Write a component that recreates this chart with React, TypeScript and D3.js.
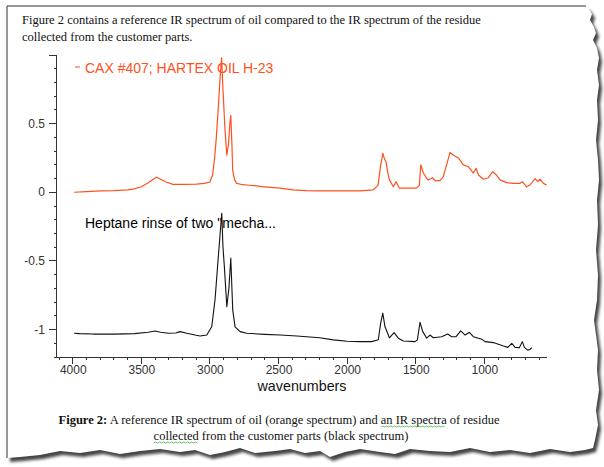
import React, { useEffect, useRef, useState } from 'react';
import * as d3 from 'd3';

const W = 604;
const H = 467;

// ---- data ----
const xTickValues = [4000, 3500, 3000, 2500, 2000, 1500, 1000];
const yTickValues = [-1, -0.5, 0, 0.5];
const yTickLabels = ['-1', '-0.5', '0', '0.5'];
const xAxisTitle = 'wavenumbers';
const orangeName = 'CAX #407; HARTEX OIL H-23';
const blackName = 'Heptane rinse of two "mecha...';

const orangeWn = [3990, 3900, 3800, 3700, 3600, 3550, 3500, 3450, 3420, 3390, 3360, 3320, 3270, 3200, 3100, 3040, 3000, 2980, 2965, 2955, 2940, 2925, 2915, 2905, 2890, 2877, 2865, 2855, 2848, 2840, 2834, 2820, 2805, 2760, 2730, 2600, 2489, 2394, 2300, 2200, 2100, 2000, 1907, 1811, 1775, 1755, 1740, 1730, 1716, 1705, 1692, 1663, 1643, 1619, 1560, 1493, 1474, 1463, 1444, 1420, 1408, 1379, 1359, 1323, 1299, 1275, 1250, 1226, 1189, 1153, 1116, 1080, 1060, 1043, 1007, 971, 939, 915, 885, 837, 780, 740, 723, 691, 667, 630, 610, 594, 570, 545];
const orangeAbs = [0.0, 0.005, 0.01, 0.012, 0.017, 0.025, 0.04, 0.07, 0.09, 0.11, 0.095, 0.075, 0.058, 0.057, 0.06, 0.065, 0.075, 0.13, 0.26, 0.38, 0.6, 0.85, 0.98, 0.75, 0.45, 0.27, 0.35, 0.5, 0.56, 0.35, 0.16, 0.09, 0.065, 0.055, 0.053, 0.04, 0.03, 0.017, 0.012, 0.01, 0.01, 0.01, 0.01, 0.017, 0.05, 0.2, 0.284, 0.25, 0.22, 0.15, 0.09, 0.04, 0.077, 0.03, 0.03, 0.03, 0.05, 0.2, 0.14, 0.1, 0.09, 0.106, 0.085, 0.085, 0.114, 0.2, 0.29, 0.27, 0.25, 0.2, 0.186, 0.14, 0.175, 0.126, 0.095, 0.106, 0.15, 0.13, 0.09, 0.07, 0.065, 0.065, 0.077, 0.04, 0.053, 0.1, 0.077, 0.095, 0.065, 0.053];

const blackWn = [3990, 3950, 3850, 3700, 3550, 3450, 3400, 3360, 3300, 3250, 3218, 3169, 3100, 3072, 3023, 2987, 2963, 2939, 2914, 2905, 2895, 2877, 2862, 2848, 2834, 2817, 2780, 2732, 2600, 2489, 2367, 2200, 2100, 2000, 1907, 1821, 1773, 1755, 1740, 1724, 1692, 1658, 1627, 1590, 1505, 1488, 1469, 1449, 1420, 1396, 1372, 1311, 1267, 1238, 1206, 1172, 1140, 1109, 1080, 1019, 995, 934, 861, 829, 800, 776, 745, 723, 708, 684, 667, 654];
const blackAbs = [-1.027, -1.03, -1.033, -1.033, -1.03, -1.02, -1.01, -1.02, -1.027, -1.025, -1.015, -1.027, -1.042, -1.047, -1.04, -0.98, -0.784, -0.47, -0.153, -0.4, -0.54, -0.833, -0.7, -0.48, -0.857, -0.98, -1.015, -1.027, -1.035, -1.04, -1.047, -1.06, -1.075, -1.085, -1.088, -1.088, -1.075, -0.95, -0.88, -0.98, -1.06, -1.023, -1.063, -1.083, -1.088, -1.075, -0.947, -1.015, -1.063, -1.04, -1.06, -1.052, -1.033, -1.052, -1.052, -1.01, -1.04, -1.02, -1.052, -1.07, -1.088, -1.095, -1.12, -1.13, -1.1, -1.13, -1.132, -1.088, -1.13, -1.15, -1.145, -1.132];

const introLines = [
  'Figure 2 contains a reference IR spectrum of oil compared to the IR spectrum of the residue',
  'collected from the customer parts.',
];
const captionBold = 'Figure 2:';
const captionRest = ' A reference IR spectrum of oil (orange spectrum) and an IR spectra of residue';
const captionLine2 = 'collected from the customer parts (black spectrum)';
const spellWord1 = 'an IR spectra';
const spellWord2 = 'collected';

// decorative torn-paper outline (not data)
const tornRight: [number, number][] = [
  [586, 6], [589, 9], [592, 14], [590, 20], [594, 27], [596, 33], [593, 40], [597, 48], [599, 58], [597, 70],
  [599, 85], [597, 100], [598, 120], [596, 140], [598, 160], [599, 180], [597, 200], [598, 225], [596, 250],
  [598, 275], [597, 300], [594, 320], [596, 335], [598, 350], [597, 370], [599, 390], [596, 410], [598, 425],
  [595, 440], [593, 448],
];
const tornBottom: [number, number][] = [
  [585, 450], [570, 452], [550, 449], [530, 453], [510, 450], [490, 452], [470, 448], [450, 452], [430, 451],
  [410, 449], [395, 454], [380, 452], [360, 449], [345, 452], [330, 457], [320, 451], [305, 453], [290, 449],
  [275, 451], [255, 453], [240, 448], [225, 452], [210, 455], [195, 450], [180, 452], [160, 449], [140, 451],
  [120, 454], [100, 450], [80, 453], [60, 451], [40, 455], [20, 457], [7, 458],
];

const ORANGE = '#ff5020';
const SANS = 'Arial, "Liberation Sans", sans-serif';
const SERIF = '"Liberation Serif", "Times New Roman", serif';

type Wave = { x0: number; x1: number; y: number };

export default function App() {
  const x = d3.scaleLinear().domain([4117, 541]).range([56.7, 547.3]);
  const y = d3.scaleLinear().domain([-1.2, 1.0]).range([357, 55]);

  const line = d3
    .line<[number, number]>()
    .x((d) => x(d[0]))
    .y((d) => y(d[1]));

  const orangeData = orangeWn.map((w, i) => [w, orangeAbs[i]] as [number, number]);
  const blackData = blackWn.map((w, i) => [w, blackAbs[i]] as [number, number]);

  const xMinor = d3.range(600, 4200, 100).filter((v) => v <= 4117 && v >= 541 && v % 500 !== 0);
  const yMinor = d3.range(-12, 11).map((i) => i / 10).filter((v) => Math.abs((v * 2) % 1) > 1e-6);

  const cap1Ref = useRef<SVGTextElement>(null);
  const cap2Ref = useRef<SVGTextElement>(null);
  const [waves, setWaves] = useState<Wave[]>([]);

  useEffect(() => {
    const out: Wave[] = [];
    const t1 = cap1Ref.current;
    const t2 = cap2Ref.current;
    if (t1) {
      const full = captionBold + captionRest;
      const idx = full.indexOf(spellWord1);
      const a = t1.getStartPositionOfChar(idx);
      const b = t1.getEndPositionOfChar(idx + spellWord1.length - 1);
      out.push({ x0: a.x, x1: b.x, y: a.y + 3 });
    }
    if (t2) {
      const idx = captionLine2.indexOf(spellWord2);
      const a = t2.getStartPositionOfChar(idx);
      const b = t2.getEndPositionOfChar(idx + spellWord2.length - 1);
      out.push({ x0: a.x, x1: b.x, y: a.y + 3 });
    }
    setWaves(out);
  }, []);

  const wavePath = (w: Wave) => {
    let d = `M${w.x0},${w.y}`;
    let up = true;
    for (let xx = w.x0 + 2; xx <= w.x1; xx += 2) {
      d += ` L${xx},${w.y + (up ? -1 : 0)}`;
      up = !up;
    }
    return d;
  };

  const pagePts: [number, number][] = [[7, 6], ...tornRight, ...tornBottom];
  const pagePath = d3.line()(pagePts) + 'Z';

  return (
    <svg
      width={W}
      height={H}
      style={{ position: 'absolute', left: 0, top: 0, display: 'block', background: '#fff' }}
    >
      <defs>
        <filter id="shadow" x="-5%" y="-5%" width="110%" height="110%">
          <feGaussianBlur stdDeviation="1.6" />
        </filter>
      </defs>
      <rect width={W} height={H} fill="#fff" />
      {/* torn page */}
      <path d={pagePath} fill="#444" transform="translate(3,4)" filter="url(#shadow)" />
      <path d={pagePath} fill="#fff" />
      <line x1={7} y1={6} x2={586} y2={6} stroke="#333" strokeWidth={1} />
      <line x1={7} y1={6} x2={7} y2={458} stroke="#333" strokeWidth={1} />

      {/* intro text */}
      <g fontFamily={SERIF} fontSize={12.5} fill="#111">
        <text x={22} y={24}>{introLines[0]}</text>
        <text x={22} y={41}>{introLines[1]}</text>
      </g>

      {/* axes */}
      <g stroke="#333" strokeWidth={1} shapeRendering="crispEdges">
        <line x1={56.7} y1={y(1.0)} x2={56.7} y2={y(-1.2)} />
        <line x1={56.7} y1={y(-1.2)} x2={547.3} y2={y(-1.2)} />
        {yTickValues.concat([1.0]).map((v) => (
          <line key={'yt' + v} x1={48.5} x2={56.7} y1={y(v)} y2={y(v)} />
        ))}
        {yMinor.map((v) => (
          <line key={'ym' + v} x1={53.7} x2={56.7} y1={y(v)} y2={y(v)} />
        ))}
        {xTickValues.map((v) => (
          <line key={'xt' + v} x1={x(v)} x2={x(v)} y1={y(-1.2)} y2={y(-1.2) + 7} />
        ))}
        {xMinor.map((v) => (
          <line key={'xm' + v} x1={x(v)} x2={x(v)} y1={y(-1.2)} y2={y(-1.2) + 3} />
        ))}
      </g>
      <g fontFamily={SANS} fontSize={12} fill="#333">
        {yTickValues.map((v, i) => (
          <text key={'yl' + v} x={45} y={y(v) + 4} textAnchor="end">{yTickLabels[i]}</text>
        ))}
        {xTickValues.map((v) => (
          <text key={'xl' + v} x={x(v) + 0.5} y={374} textAnchor="middle">{v}</text>
        ))}
      </g>
      <text x={302} y={391} textAnchor="middle" fontFamily={SANS} fontSize={14.3} fill="#111">
        {xAxisTitle}
      </text>

      {/* series labels */}
      <line x1={75} x2={80} y1={67} y2={67} stroke={ORANGE} strokeWidth={1} />
      <text x={85} y={73} fontFamily={SANS} fontSize={14} fill={ORANGE}>{orangeName}</text>
      <text x={85} y={228} fontFamily={SANS} fontSize={14} fill="#000">{blackName}</text>

      {/* spectra */}
      <path d={line(orangeData) || ''} fill="none" stroke={ORANGE} strokeWidth={1.2} strokeLinejoin="round" />
      <path d={line(blackData) || ''} fill="none" stroke="#111" strokeWidth={1.1} strokeLinejoin="round" />

      {/* caption */}
      <g fontFamily={SERIF} fontSize={12.5} fill="#111">
        <text ref={cap1Ref} x={279} y={424} textAnchor="middle">
          <tspan fontWeight="bold">{captionBold}</tspan>
          <tspan>{captionRest}</tspan>
        </text>
        <text ref={cap2Ref} x={281} y={440} textAnchor="middle">{captionLine2}</text>
      </g>
      {waves.map((w, i) => (
        <path key={'w' + i} d={wavePath(w)} fill="none" stroke="#4caf50" strokeWidth={0.8} />
      ))}
    </svg>
  );
}
